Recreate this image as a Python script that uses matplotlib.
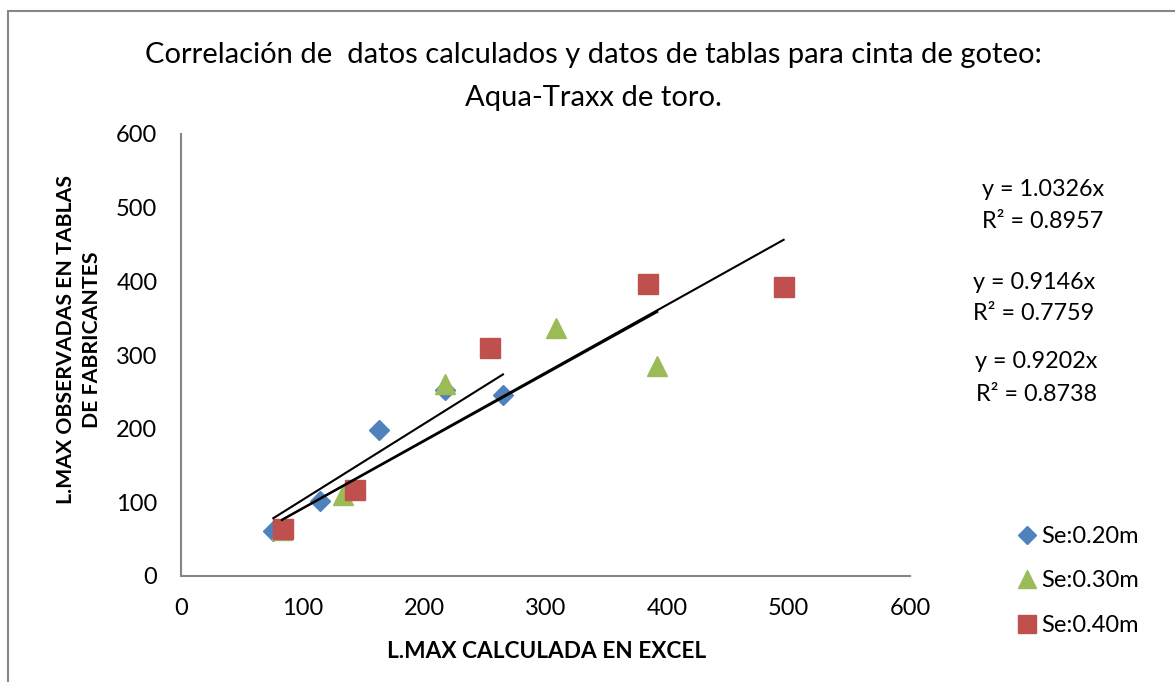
import matplotlib.pyplot as plt
from matplotlib.patches import Rectangle

plt.rcParams['font.family'] = ['Lato', 'DejaVu Sans']

# --- datos ---
series_names = ["Se:0.20m", "Se:0.30m", "Se:0.40m"]
x_020 = [76, 114, 163, 217, 265]
y_020 = [61, 102, 198, 252, 246]
x_030 = [83, 133, 217, 309, 392]
y_030 = [62, 110, 261, 337, 285]
x_040 = [84, 143, 254, 384, 496]
y_040 = [64, 117, 310, 396, 392]

slopes = [1.0326, 0.9146, 0.9202]
r2 = [0.8957, 0.7759, 0.8738]

title_lines = ["Correlación de  datos calculados y datos de tablas para cinta de goteo:",
               "Aqua-Traxx de toro."]
xlabel = "L.MAX CALCULADA EN EXCEL"
ylabel = "L.MAX OBSERVADAS EN TABLAS\nDE FABRICANTES"
ticks = [0, 100, 200, 300, 400, 500, 600]

colors = ["#4F81BD", "#9BBB59", "#C0504D"]
markers = ["D", "^", "s"]
sizes = [10, 14, 14]

fig = plt.figure(figsize=(11.75, 6.82), dpi=100)
ax = fig.add_axes([181 / 1175, 1 - 576 / 682, 729 / 1175, 442 / 682])

xs = [x_020, x_030, x_040]
ys = [y_020, y_030, y_040]
for x, y, c, m, s, name in zip(xs, ys, colors, markers, sizes, series_names):
    ax.plot(x, y, linestyle="none", marker=m, markersize=s, color=c, label=name)

# líneas de tendencia (por el origen)
for x, k in zip(xs, slopes):
    x0, x1 = min(x), max(x)
    ax.plot([x0, x1], [k * x0, k * x1], color="black", lw=1.5)

ax.set_xlim(0, 600)
ax.set_ylim(0, 600)
ax.set_xticks(ticks)
ax.set_yticks(ticks)
ax.tick_params(length=0, labelsize=17, colors="black")
ax.tick_params(axis="y", pad=17)
ax.tick_params(axis="x", pad=16)
for side in ["top", "right"]:
    ax.spines[side].set_visible(False)
for side in ["left", "bottom"]:
    ax.spines[side].set_color("#868686")
    ax.spines[side].set_linewidth(1.5)

# títulos
fig.text(593 / 1175, 1 - 55 / 682, title_lines[0], ha="center", va="center", fontsize=21)
fig.text(593 / 1175, 1 - 98 / 682, title_lines[1], ha="center", va="center", fontsize=21)
fig.text(547 / 1175, 1 - 651 / 682, xlabel, ha="center", va="center",
         fontsize=16.3, fontweight="bold")
fig.text(79 / 1175, 1 - 340 / 682, ylabel, ha="center", va="center", rotation=90,
         fontsize=15.3, fontweight="bold", linespacing=1.35)

# ecuaciones
eq_pos = [(1043, 190), (1034, 282), (1036, 362)]
for (px, py), k, r in zip(eq_pos, slopes, r2):
    fig.text(px / 1175, 1 - py / 682, f"y = {k:.4f}x", ha="center", va="center", fontsize=16.8)
    fig.text(px / 1175, 1 - (py + 32) / 682, f"R² = {r:.4f}", ha="center", va="center",
             fontsize=16.8)

fig.legend(loc="upper left", bbox_to_anchor=(1006 / 1175, 1 - 514 / 682), frameon=False,
           fontsize=17, markerscale=0.9, handlelength=0.8, handletextpad=0.2,
           labelspacing=1.0, borderpad=0)

# borde exterior del gráfico
fig.patches.append(Rectangle((8 / 1175, -0.05), 1.2, 1 - 11 / 682 + 0.05,
                             transform=fig.transFigure, fill=False,
                             edgecolor="#868686", lw=1.5))

fig.savefig("out.png", dpi=100)
